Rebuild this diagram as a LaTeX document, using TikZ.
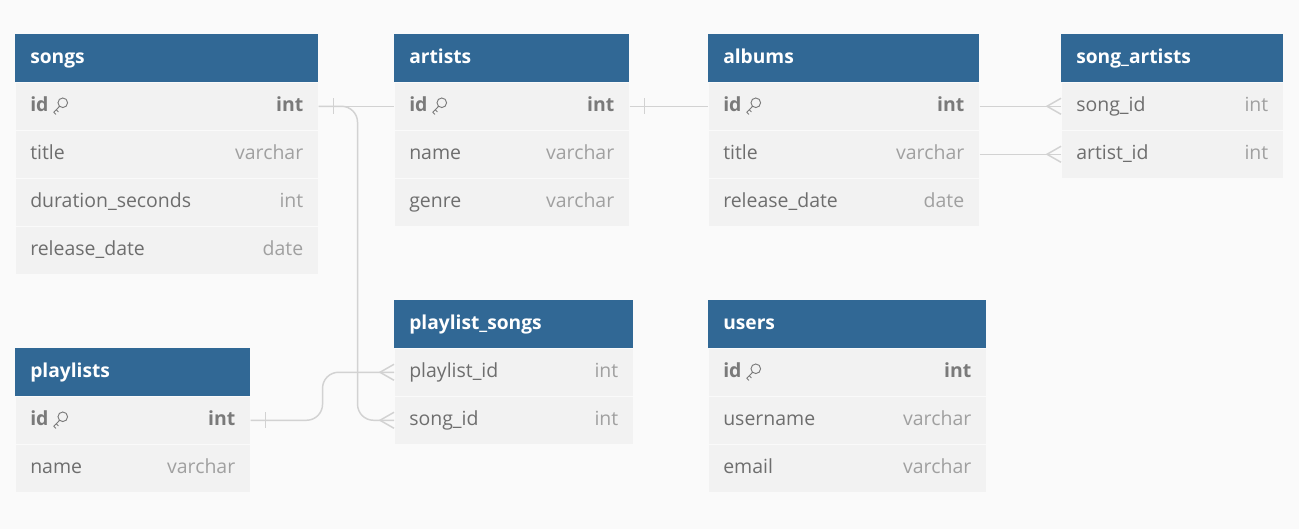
\documentclass[tikz,border=0pt]{standalone}
\usepackage{fontspec}
\setmainfont{Open Sans}
\usepackage{tikz}
\usetikzlibrary{positioning}

\definecolor{hdblue}{HTML}{316895}
\definecolor{rowbg}{HTML}{F2F2F2}
\definecolor{pagebg}{HTML}{FAFAFA}
\definecolor{fldtxt}{HTML}{6E6E6E}
\definecolor{typtxt}{HTML}{A0A0A0}
\definecolor{pktxt}{HTML}{7A7A7A}
\definecolor{linkgray}{HTML}{D2D2D2}

\tikzset{
  tblhead/.style={fill=hdblue, text=white, font=\bfseries\fontsize{14.4}{16}\selectfont,
    minimum height=36pt, inner xsep=11.25pt, inner ysep=0pt, align=left,
    text height=10.5pt, text depth=3pt},
  tblrow/.style={fill=rowbg, draw=pagebg, line width=.4pt, minimum height=36pt, inner sep=0pt},
  fieldtxt/.style={text=fldtxt, font=\fontsize{14.6}{16}\selectfont, inner sep=0pt,
    text height=10.5pt, text depth=3pt},
  typetxt/.style={text=typtxt, font=\fontsize{14.6}{16}\selectfont, inner sep=0pt,
    text height=10.5pt, text depth=3pt},
  pkstyle/.style={text=pktxt, font=\bfseries\fontsize{14.6}{16}\selectfont},
  conn/.style={draw=linkgray, line width=1.1pt},
  pkkey/.pic={
    \draw[pktxt, line width=.7pt] (10,-3.5) circle (4.8);
    \draw[pktxt, line width=.7pt, line join=round, line cap=round]
      (6.8,0) -- (1,6) -- (3,8) (3.5,3.5) -- (5.5,5.5);
  },
  crow/.pic={\draw[conn] (0,-8) -- (-14,0) -- (0,8);},
  onebar/.pic={\draw[conn] (0,-8) -- (0,8);}
}

% name, x, y, width, title, rows (key/text/type/pk)
\newcommand{\erTable}[6]{%
  \node[tblhead, minimum width=#4*0.75pt, anchor=north west, text width=#4*0.75pt-22.5pt] (#1-head) at (#2,#3) {#5};
  \foreach \k/\f/\t/\p [count=\i] in {#6} {
    \node[tblrow, minimum width=#4*0.75pt, anchor=north west] (#1-\k) at (#2,{#3+48*\i}) {};
    \ifnum\p=1
      \node[fieldtxt, pkstyle, anchor=west] (#1-\k-n) at ([xshift=11.25pt]#1-\k.west) {\f};
      \node[typetxt, pkstyle, anchor=east] (#1-\k-t) at ([xshift=-11.25pt]#1-\k.east) {\t};
      \path ([xshift=3pt]#1-\k-n.east) pic {pkkey};
    \else
      \node[fieldtxt, anchor=west] (#1-\k-n) at ([xshift=11.25pt]#1-\k.west) {\f};
      \node[typetxt, anchor=east] (#1-\k-t) at ([xshift=-11.25pt]#1-\k.east) {\t};
    \fi
  }
}

\begin{document}
\begin{tikzpicture}[x=0.75pt, y=-0.75pt]

  \fill[pagebg] (0,0) rectangle (1299,529);
  \useasboundingbox (0,0) rectangle (1299,529);

  % tables
  \erTable{songs}{15}{34}{303}{songs}{id/id/int/1, title/title/varchar/0, dur/duration\_seconds/int/0, rel/release\_date/date/0}
  \erTable{artists}{394}{34}{235}{artists}{id/id/int/1, name/name/varchar/0, genre/genre/varchar/0}
  \erTable{albums}{708}{34}{271}{albums}{id/id/int/1, title/title/varchar/0, rel/release\_date/date/0}
  \erTable{songartists}{1061}{34}{222}{song\_artists}{songid/song\_id/int/0, artistid/artist\_id/int/0}
  \erTable{plsongs}{394}{300}{239}{playlist\_songs}{plid/playlist\_id/int/0, songid/song\_id/int/0}
  \erTable{users}{708}{300}{278}{users}{id/id/int/1, uname/username/varchar/0, email/email/varchar/0}
  \erTable{playlists}{15}{348}{235}{playlists}{id/id/int/1, name/name/varchar/0}

  % relations
  \draw[conn] (songs-id.east) -- (artists-id.west);
  \path (songs-id.east) ++(15,0) pic {onebar};
  \draw[conn, rounded corners=12] (songs-id.east) -- ++(39,0) |- (plsongs-songid.west);
  \path (plsongs-songid.west) pic {crow};

  \draw[conn] (artists-id.east) -- (albums-id.west);
  \path (artists-id.east) ++(15,0) pic {onebar};

  \draw[conn] (albums-id.east) -- (songartists-songid.west);
  \path (songartists-songid.west) pic {crow};
  \draw[conn] (albums-title.east) -- (songartists-artistid.west);
  \path (songartists-artistid.west) pic {crow};

  \draw[conn, rounded corners=12] (playlists-id.east) -- ++(72,0) |- (plsongs-plid.west);
  \path (playlists-id.east) ++(15,0) pic {onebar};
  \path (plsongs-plid.west) pic {crow};

\end{tikzpicture}
\end{document}
